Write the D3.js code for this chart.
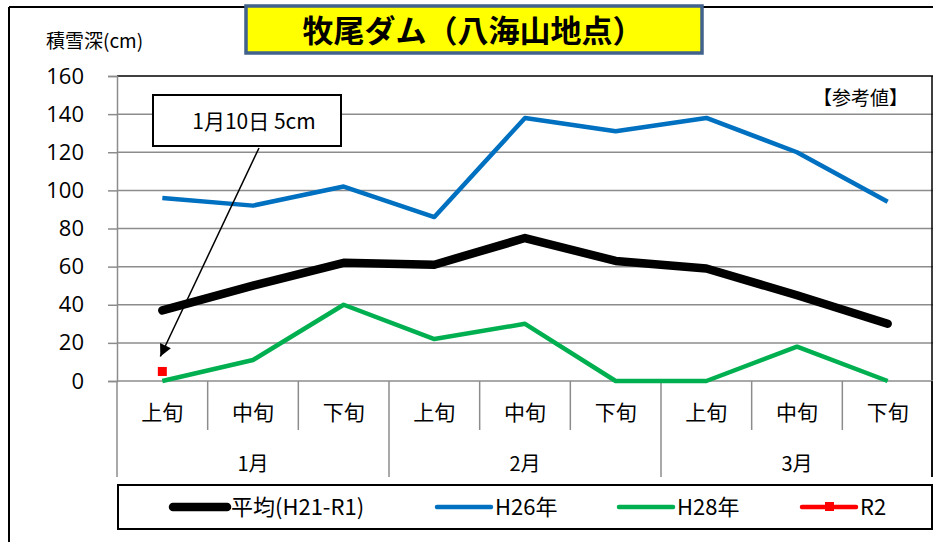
<!DOCTYPE html>
<meta charset="utf-8">
<style>
  body { margin: 0; background: #fff; }
  text { font-family: "Noto Sans CJK JP", "Noto Sans", sans-serif; }
</style>
<body>
<script src="https://cdn.jsdelivr.net/npm/d3@7"></script>
<script>
// data
var months = ["1月", "2月", "3月"];
var periods = ["上旬", "中旬", "下旬"];
var avg = [37, 50, 62, 61, 75, 63, 59, 45, 30];
var h26 = [96, 92, 102, 86, 138, 131, 138, 120, 94];
var h28 = [0, 11, 40, 22, 30, 0, 0, 18, 0];
var r2 = [5, null, null, null, null, null, null, null, null];
var yTicks = [0, 20, 40, 60, 80, 100, 120, 140, 160];

var W = 933, H = 542;
var pL = 117, pR = 933, pT = 76, pB = 381;

var svg = d3.select("body").append("svg")
    .attr("width", W)
    .attr("height", H);

var cats = d3.range(9);
var x = d3.scaleBand().domain(cats).range([pL, pR]);
var y = d3.scaleLinear().domain([0, 160]).range([pB, pT]);

// outer frame
svg.append("line").attr("x1", 9).attr("x2", 9).attr("y1", 7).attr("y2", H).attr("stroke", "#000").attr("stroke-width", 2);
svg.append("line").attr("x1", 9).attr("x2", W).attr("y1", 7).attr("y2", 7).attr("stroke", "#000").attr("stroke-width", 2);

// grid
svg.append("g").selectAll("line").data(yTicks.slice(1)).join("line")
    .attr("x1", pL).attr("x2", pR)
    .attr("y1", d => y(d)).attr("y2", d => y(d))
    .attr("stroke", d => d == 160 ? "#000" : "#8c8c8c")
    .attr("stroke-width", 1.5);

// y axis
var ya = svg.append("g")
    .attr("transform", "translate(" + pL + ",0)")
    .call(d3.axisLeft(y).tickValues(yTicks).tickSize(9).tickPadding(24));
ya.select(".domain").attr("stroke", "#8c8c8c").attr("stroke-width", 1.5);
ya.selectAll(".tick line").attr("stroke", "#8c8c8c").attr("stroke-width", 1.5);
ya.selectAll(".tick text").attr("font-size", 22).attr("fill", "#000")
    .style("font-family", "'Open Sans', sans-serif");

// plot right border
svg.append("line").attr("x1", pR - 1).attr("x2", pR - 1).attr("y1", pT).attr("y2", 477)
    .attr("stroke", "#000").attr("stroke-width", 1.5);

// x axis baseline
svg.append("line").attr("x1", pL).attr("x2", pR).attr("y1", pB).attr("y2", pB)
    .attr("stroke", "#8c8c8c").attr("stroke-width", 1.5);

// category separators
var gx = svg.append("g");
d3.range(10).forEach(function(i) {
  var xx = i < 9 ? x(i) : pR - 1;
  var isMonth = i % 3 == 0;
  gx.append("line")
    .attr("x1", xx).attr("x2", xx)
    .attr("y1", pB).attr("y2", isMonth ? 477 : 430)
    .attr("stroke", i == 9 ? "#000" : "#8c8c8c").attr("stroke-width", 1.5);
});
gx.selectAll("text.p").data(cats).join("text")
    .attr("class", "p")
    .attr("x", d => x(d) + x.bandwidth() / 2)
    .attr("y", 420)
    .attr("text-anchor", "middle")
    .attr("font-size", 21)
    .text(d => periods[d % 3]);
gx.selectAll("text.m").data(months).join("text")
    .attr("class", "m")
    .attr("x", (d, i) => x(i * 3) + x.bandwidth() * 1.5)
    .attr("y", 471)
    .attr("text-anchor", "middle")
    .attr("font-size", 20)
    .text(d => d);

// lines
var line = d3.line()
    .defined(d => d != null)
    .x((d, i) => x(i) + x.bandwidth() / 2)
    .y(d => y(d));

svg.append("path").datum(h28).attr("d", line)
    .attr("fill", "none").attr("stroke", "#00b050").attr("stroke-width", 4.5).attr("stroke-linejoin", "round");
svg.append("path").datum(h26).attr("d", line)
    .attr("fill", "none").attr("stroke", "#0070c0").attr("stroke-width", 4.5).attr("stroke-linejoin", "round");
svg.append("path").datum(avg).attr("d", line)
    .attr("fill", "none").attr("stroke", "#000").attr("stroke-width", 8.5)
    .attr("stroke-linejoin", "round").attr("stroke-linecap", "round");

svg.append("g").selectAll("rect").data(r2.map((d, i) => [i, d]).filter(d => d[1] != null)).join("rect")
    .attr("x", d => x(d[0]) + x.bandwidth() / 2 - 4.5)
    .attr("y", d => y(d[1]) - 4.5)
    .attr("width", 9).attr("height", 9)
    .attr("fill", "#ff0000");

// annotation
svg.append("defs").append("marker")
    .attr("id", "arr").attr("viewBox", "0 0 10 10")
    .attr("refX", 10).attr("refY", 5)
    .attr("markerWidth", 15).attr("markerHeight", 12)
    .attr("markerUnits", "userSpaceOnUse")
    .attr("orient", "auto")
  .append("path").attr("d", "M0,0L10,5L0,10Z").attr("fill", "#000");
svg.append("line")
    .attr("x1", 259).attr("y1", 148)
    .attr("x2", x(0) + x.bandwidth() / 2 - 2).attr("y2", y(r2[0]) - 15)
    .attr("stroke", "#000").attr("stroke-width", 1.5)
    .attr("marker-end", "url(#arr)");
svg.append("rect")
    .attr("x", 153).attr("y", 95).attr("width", 188).attr("height", 51)
    .attr("fill", "#fff").attr("stroke", "#000").attr("stroke-width", 2);
svg.append("text")
    .attr("x", 254).attr("y", 129)
    .attr("text-anchor", "middle").attr("font-size", 21)
    .text("1月10日 5cm");

// 参考値
svg.append("text")
    .attr("x", 908).attr("y", 105)
    .attr("text-anchor", "end").attr("font-size", 19)
    .text("【参考値】");

// y label
svg.append("text")
    .attr("x", 46).attr("y", 48)
    .attr("font-size", 19)
    .text("積雪深(cm)");

// title
svg.append("rect")
    .attr("x", 246).attr("y", 6).attr("width", 456).attr("height", 47)
    .attr("fill", "#ffff00").attr("stroke", "#41628c").attr("stroke-width", 3.5);
svg.append("text")
    .attr("x", 473).attr("y", 42)
    .attr("text-anchor", "middle").attr("font-size", 31).attr("font-weight", "bold")
    .text("牧尾ダム（八海山地点）");

// legend
var lg = svg.append("g");
lg.append("rect")
    .attr("x", 118).attr("y", 485).attr("width", 814).attr("height", 44)
    .attr("fill", "#fff").attr("stroke", "#000").attr("stroke-width", 2);
var legend = [
  {name: "平均(H21-R1)", color: "#000", w: 8.5, x1: 173},
  {name: "H26年", color: "#0070c0", w: 4.5, x1: 437},
  {name: "H28年", color: "#00b050", w: 4.5, x1: 619},
  {name: "R2", color: "#ff0000", w: 4.5, x1: 802}
];
legend.forEach(function(d, i) {
  lg.append("line")
    .attr("x1", d.x1).attr("x2", d.x1 + 54).attr("y1", 507).attr("y2", 507)
    .attr("stroke", d.color).attr("stroke-width", d.w).attr("stroke-linecap", "round");
  if (i == 3) {
    lg.append("rect").attr("x", d.x1 + 23).attr("y", 502).attr("width", 9).attr("height", 9).attr("fill", d.color);
  }
  lg.append("text")
    .attr("x", d.x1 + 58).attr("y", 515)
    .attr("font-size", 22)
    .text(d.name);
});
</script>
</body>
